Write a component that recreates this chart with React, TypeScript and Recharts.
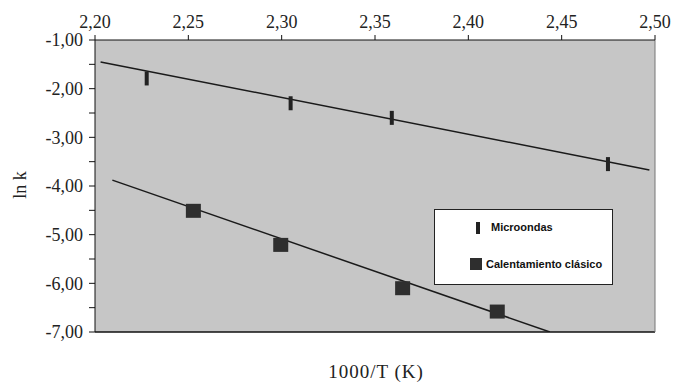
import {
  ScatterChart,
  Scatter,
  XAxis,
  YAxis,
  CartesianGrid,
  ReferenceLine,
} from "recharts";

// Microondas (measured points and fitted line)
const microX = [2.2277, 2.3048, 2.359, 2.4748];
const microY = [-1.79, -2.3, -2.6, -3.55];
const microFitX = [2.203, 2.497];
const microFitY = [-1.45, -3.67];

// Calentamiento clásico
const clasicoX = [2.2527, 2.2995, 2.3648, 2.4155];
const clasicoY = [-4.51, -5.21, -6.1, -6.58];
const clasicoFitX = [2.2093, 2.4437];
const clasicoFitY = [-3.88, -7.0];

const xTicks = [2.2, 2.25, 2.3, 2.35, 2.4, 2.45, 2.5];
const yTicks = [-7, -6.5, -6, -5.5, -5, -4.5, -4, -3.5, -3, -2.5, -2, -1.5, -1];

const zip = (xs: number[], ys: number[]) => xs.map((x, i) => ({ x, y: ys[i] }));

const microData = zip(microX, microY);
const microFit = zip(microFitX, microFitY);
const clasicoData = zip(clasicoX, clasicoY);
const clasicoFit = zip(clasicoFitX, clasicoFitY);

const serif = "'Liberation Serif', 'DejaVu Serif', serif";
const comma = (v: number) => v.toFixed(2).replace(".", ",");

const BarMark = (props: any) => (
  <rect x={props.cx - 2} y={props.cy - 7} width={4} height={14} fill="#222" />
);

const SquareMark = (props: any) => (
  <rect x={props.cx - 7.5} y={props.cy - 7} width={15} height={14} fill="#2e2e2e" />
);

const NoMark = () => <g />;

export default function App() {
  return (
    <div style={{ position: "absolute", left: 0, top: 0, width: 675, height: 383, background: "#fff" }}>
      <ScatterChart
        width={675}
        height={383}
        margin={{ top: 0, right: 20, bottom: 51, left: 0 }}
      >
        <CartesianGrid horizontal={false} vertical={false} fill="#c6c6c6" />
        <XAxis
          type="number"
          dataKey="x"
          orientation="top"
          domain={[2.2, 2.5]}
          ticks={xTicks}
          tickFormatter={comma}
          height={40}
          tickSize={5}
          tickMargin={7}
          stroke="#111"
          tick={{ fill: "#222", fontSize: 18, fontFamily: serif }}
          allowDataOverflow
        />
        <YAxis
          type="number"
          dataKey="y"
          domain={[-7, -1]}
          ticks={yTicks}
          interval={0}
          tickFormatter={(v: number) => (Number.isInteger(v) ? comma(v) : "")}
          width={95}
          tickSize={6}
          tickMargin={6}
          stroke="#111"
          tick={{ fill: "#222", fontSize: 18, fontFamily: serif }}
          allowDataOverflow
        />
        <ReferenceLine y={-7} stroke="#111" strokeWidth={1.5} />
        <ReferenceLine x={2.5} stroke="#777" />
        <Scatter
          data={microFit}
          line={{ stroke: "#1a1a1a", strokeWidth: 1.5 }}
          shape={NoMark}
          isAnimationActive={false}
        />
        <Scatter
          data={clasicoFit}
          line={{ stroke: "#1a1a1a", strokeWidth: 1.5 }}
          shape={NoMark}
          isAnimationActive={false}
        />
        <Scatter data={microData} shape={BarMark} isAnimationActive={false} />
        <Scatter data={clasicoData} shape={SquareMark} isAnimationActive={false} />
      </ScatterChart>

      <div
        style={{
          position: "absolute",
          left: 434,
          top: 209,
          width: 177,
          height: 74,
          background: "#fff",
          border: "1px solid #222",
          fontFamily: "'Liberation Sans', Arial, sans-serif",
          fontWeight: "bold",
          fontSize: 11,
          color: "#111",
        }}
      >
        <div style={{ position: "absolute", left: 41, top: 12, width: 4, height: 12, background: "#222" }} />
        <div style={{ position: "absolute", left: 56, top: 11 }}>Microondas</div>
        <div style={{ position: "absolute", left: 35, top: 48, width: 12, height: 12, background: "#2e2e2e" }} />
        <div style={{ position: "absolute", left: 51, top: 48 }}>Calentamiento clásico</div>
      </div>

      <div
        style={{
          position: "absolute",
          left: 20,
          top: 185,
          transform: "translate(-50%, -50%) rotate(-90deg)",
          fontFamily: serif,
          fontSize: 18,
          color: "#222",
          whiteSpace: "nowrap",
        }}
      >
        ln k
      </div>
      <div
        style={{
          position: "absolute",
          left: 376,
          top: 372,
          transform: "translate(-50%, -50%)",
          fontFamily: serif,
          fontSize: 19,
          letterSpacing: 1,
          color: "#222",
          whiteSpace: "nowrap",
        }}
      >
        1000/T (K)
      </div>
    </div>
  );
}
